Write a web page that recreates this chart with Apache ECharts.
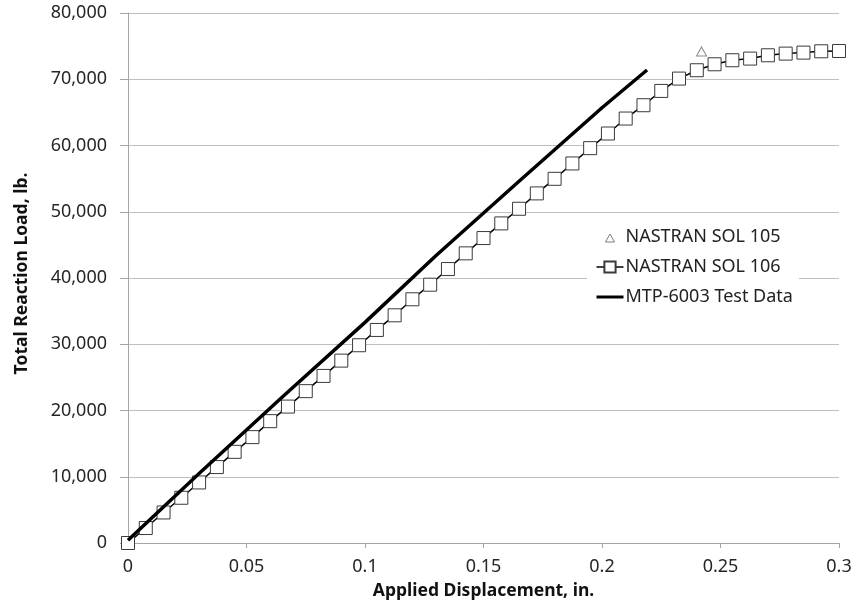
<!DOCTYPE html>
<html>
<head>
<meta charset="utf-8">
<script src="https://cdn.jsdelivr.net/npm/echarts@6/dist/echarts.min.js"></script>
<style>
html,body{margin:0;padding:0;background:#fff;}
#chart{width:859px;height:615px;}
</style>
</head>
<body>
<div id="chart"></div>
<script>
// ---- Data ----
var sol106X = [0,0.0075,0.015,0.0225,0.03,0.0375,0.045,0.0525,0.06,0.0675,
  0.075,0.0825,0.09,0.0975,0.105,0.1125,0.12,0.1275,0.135,0.1425,
  0.15,0.1575,0.165,0.1725,0.18,0.1875,0.195,0.2025,0.21,0.2175,
  0.225,0.2325,0.24,0.2475,0.255,0.2625,0.27,0.2775,0.285,0.2925,0.3];
var sol106Y = [0,2260,4610,6830,9140,11460,13760,15980,18390,20590,
  22920,25220,27530,29850,32160,34370,36790,38990,41350,43720,
  46030,48240,50450,52770,54970,57290,59600,61810,64070,66080,
  68240,70100,71360,72260,72870,73120,73620,73870,74020,74220,74260];
var sol105X = [0.242];
var sol105Y = [74200];
var testX = [0,0.03,0.065,0.1,0.13,0.165,0.2,0.219];
var testY = [400,10500,22000,33300,43400,54600,65700,71400];
var xTickLabels = ['0','0.05','0.1','0.15','0.2','0.25','0.3'];
var yTickLabels = ['0','10,000','20,000','30,000','40,000','50,000','60,000','70,000','80,000'];
var seriesNames = ['NASTRAN SOL 105','NASTRAN SOL 106','MTP-6003 Test Data'];

function zip(xs, ys){ return xs.map(function(x,i){ return [x, ys[i]]; }); }

var FONT = 'Noto Sans';
var chart = echarts.init(document.getElementById('chart'), null, {renderer:'canvas'});
chart.setOption({
  animation: false,
  backgroundColor: '#ffffff',
  grid: {left: 128, right: 20, top: 13, bottom: 72, containLabel: false},
  legend: {
    orient: 'vertical',
    left: 587,
    top: 224,
    backgroundColor: '#ffffff',
    padding: [4, 6, 4, 8],
    itemWidth: 27,
    itemHeight: 14,
    itemGap: 12,
    textStyle: {fontFamily: FONT, fontSize: 18, color: '#222222', padding: [0,0,0,-3]},
    data: [
      {name: seriesNames[0], icon: 'path://M0,0 M26,14 M8.5,12 L13,4 L17.5,12 Z',
       itemStyle: {color: '#ffffff', borderColor: '#606060', borderWidth: 1}},
      {name: seriesNames[1], lineStyle: {width: 1.5}},
      {name: seriesNames[2], lineStyle: {width: 3}}
    ]
  },
  xAxis: {
    type: 'value', min: 0, max: 0.3, interval: 0.05,
    name: 'Applied Displacement, in.',
    nameLocation: 'middle', nameGap: 39,
    nameTextStyle: {fontFamily: FONT, fontSize: 17.5, fontWeight: 'bold', color: '#111111'},
    axisLine: {show: true, lineStyle: {color: '#a6a6a6', width: 1}},
    axisTick: {show: true, length: 5, lineStyle: {color: '#a6a6a6'}},
    axisLabel: {fontFamily: FONT, fontSize: 18, color: '#262626', margin: 15,
      formatter: function(v){ return xTickLabels[Math.round(v/0.05)]; }},
    splitLine: {show: false}
  },
  yAxis: {
    type: 'value', min: 0, max: 80000, interval: 10000,
    name: 'Total Reaction Load, lb.',
    nameLocation: 'middle', nameGap: 97, nameRotate: 90,
    nameTextStyle: {fontFamily: FONT, fontSize: 17.5, fontWeight: 'bold', color: '#111111',
      padding: [0, 0, 0, 9]},
    axisLine: {show: true, lineStyle: {color: '#a6a6a6', width: 1}},
    axisTick: {show: true, length: 8, lineStyle: {color: '#a6a6a6'}},
    axisLabel: {fontFamily: FONT, fontSize: 18, color: '#262626', margin: 21,
      formatter: function(v){ return yTickLabels[Math.round(v/10000)]; }},
    splitLine: {show: true, lineStyle: {color: '#bfbfbf', width: 1}}
  },
  series: [
    {
      name: seriesNames[0], type: 'scatter', data: zip(sol105X, sol105Y),
      symbol: 'triangle', symbolSize: [10, 9],
      itemStyle: {color: '#ffffff', borderColor: '#707070', borderWidth: 1},
      z: 4
    },
    {
      name: seriesNames[1], type: 'line', data: zip(sol106X, sol106Y),
      symbol: 'rect', symbolSize: 13, showSymbol: true,
      lineStyle: {color: '#000000', width: 1.5},
      itemStyle: {color: '#ffffff', borderColor: '#3a3a3a', borderWidth: 1},
      z: 2
    },
    {
      name: seriesNames[2], type: 'line', data: zip(testX, testY),
      symbol: 'none', showSymbol: false,
      lineStyle: {color: '#000000', width: 3.5},
      itemStyle: {color: 'rgba(0,0,0,0)', borderWidth: 0},
      z: 3
    }
  ]
});
</script>
</body>
</html>
